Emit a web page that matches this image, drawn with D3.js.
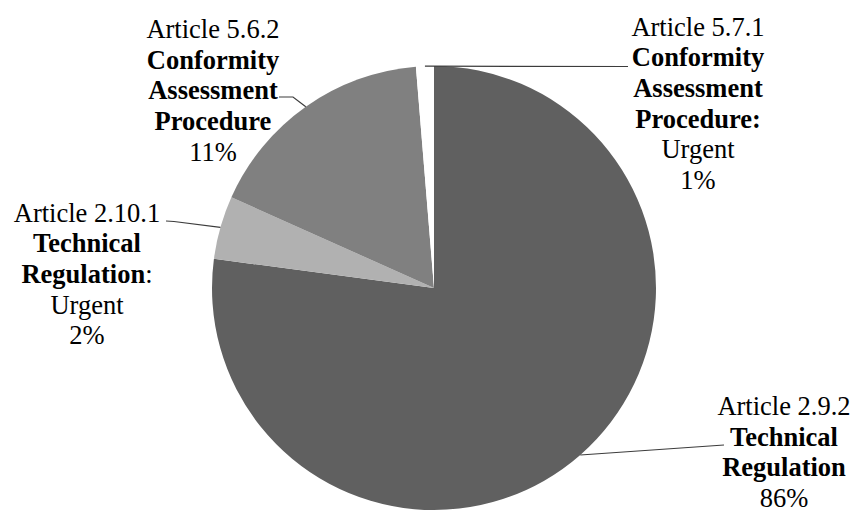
<!DOCTYPE html>
<html>
<head>
<meta charset="utf-8">
<script src="https://cdn.jsdelivr.net/npm/d3@7"></script>
<style>
  html, body { margin: 0; padding: 0; background: #fff; }
  svg { display: block; }
</style>
</head>
<body>
<div id="chart"></div>
<script>
// Data (slice sizes as drawn; percentage text as printed on the chart)
const articles = ["Article 2.9.2", "Article 2.10.1", "Article 5.6.2", "Article 5.7.1"];
const provisions = [
    ["Technical", "Regulation"],
    ["Technical", "Regulation"],
    ["Conformity", "Assessment", "Procedure"],
    ["Conformity", "Assessment", "Procedure:"]
];
const provisionSuffix = ["", ":", "", ""];   // plain-weight tail after bold text
const urgency = ["", "Urgent", "", "Urgent"];
const shares = [77.1, 4.6, 17.0, 1.3];
const percentLabels = ["86%", "2%", "11%", "1%"];
const colors = ["#606060", "#b1b1b1", "#808080", "#ffffff"];

const width = 854, height = 511;
const cx = 434, cy = 288, radius = 222;
const lineHeight = 30.7;
const fontFamily = '"Liberation Serif", "Times New Roman", serif';

// label block layout: centre x, first baseline, leader elbow points (label side)
const labelLayout = [
    {x: 784, y: 415, leader: [[724, 445]]},
    {x: 87,  y: 221.5, leader: [[166, 221], [174, 221.5]]},
    {x: 213, y: 38,  leader: [[279, 97], [293, 97]]},
    {x: 698, y: 35.5, leader: [[628, 66.5]]}
];

const svg = d3.select("#chart").append("svg")
    .attr("width", width)
    .attr("height", height);

const pie = d3.pie().sort(null).value(d => d);
const arcs = pie(shares);

const arc = d3.arc().innerRadius(0).outerRadius(radius);
const edge = d3.arc().innerRadius(radius).outerRadius(radius);

const g = svg.append("g").attr("transform", `translate(${cx},${cy})`);

g.selectAll("path")
    .data(arcs)
    .join("path")
    .attr("d", arc)
    .attr("fill", (d, i) => colors[i]);

// Leader lines
const line = d3.line();
svg.append("g")
    .selectAll("path")
    .data(arcs)
    .join("path")
    .attr("fill", "none")
    .attr("stroke", "#3c3c3c")
    .attr("stroke-width", 1.2)
    .attr("d", (d, i) => {
        const c = edge.centroid(d);
        const p = [c[0] + cx, c[1] + cy];
        return line([...labelLayout[i].leader, p]);
    });

// Labels
const labels = svg.append("g")
    .selectAll("text")
    .data(arcs)
    .join("text")
    .style("font-family", fontFamily)
    .attr("font-size", 26.5)
    .attr("fill", "#000")
    .attr("text-anchor", "middle")
    .attr("x", (d, i) => labelLayout[i].x)
    .attr("y", (d, i) => labelLayout[i].y);

labels.each(function(d, i) {
    const t = d3.select(this);
    const L = labelLayout[i];
    const rows = [];
    rows.push([{s: articles[i], b: false}]);
    provisions[i].forEach((p, k) => {
        const row = [{s: p, b: true}];
        if (k === provisions[i].length - 1 && provisionSuffix[i]) row.push({s: provisionSuffix[i], b: false});
        rows.push(row);
    });
    if (urgency[i]) rows.push([{s: urgency[i], b: false}]);
    rows.push([{s: percentLabels[i], b: false}]);

    rows.forEach((row, r) => {
        row.forEach((seg, k) => {
            const ts = t.append("tspan")
                .style("font-family", fontFamily)
                .style("font-weight", seg.b ? "bold" : "normal")
                .text(seg.s);
            if (k === 0) ts.attr("x", L.x).attr("y", L.y + r * lineHeight);
        });
    });
});
</script>
</body>
</html>
